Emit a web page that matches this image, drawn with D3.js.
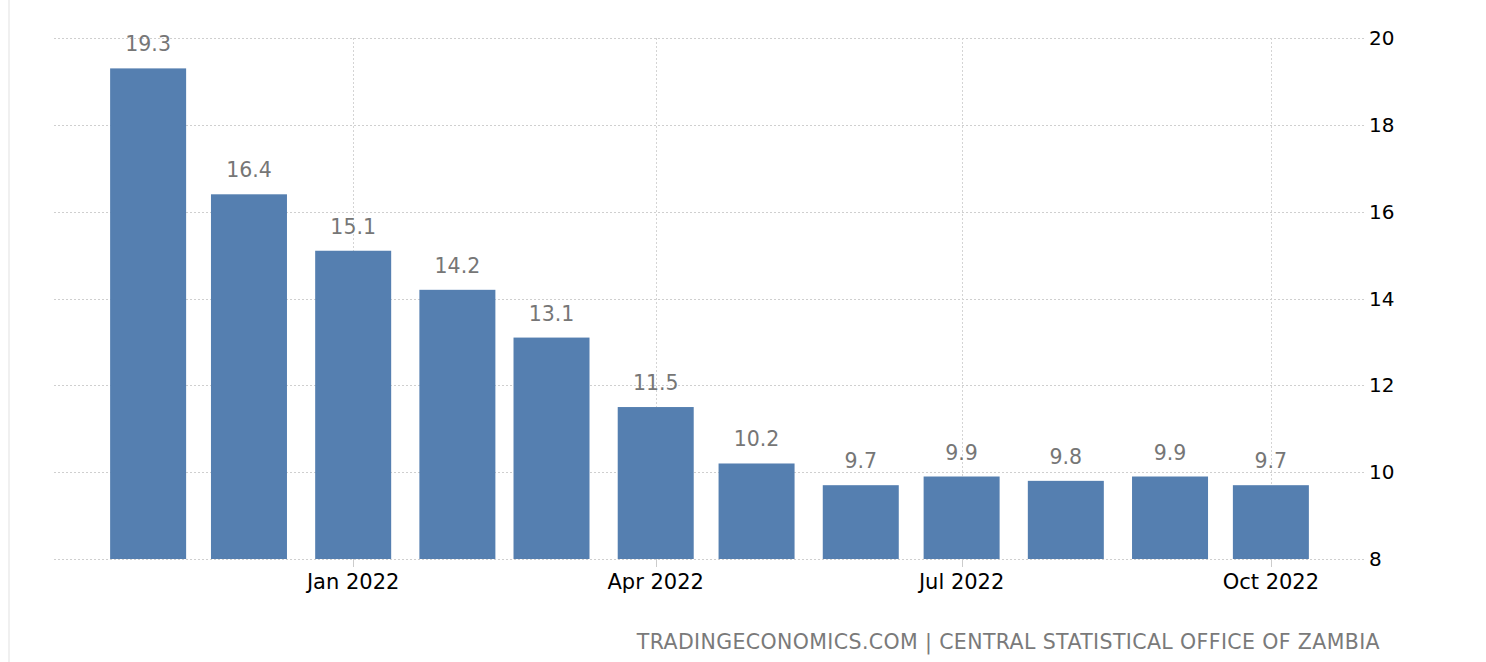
<!DOCTYPE html>
<html>
<head>
<meta charset="utf-8">
<script src="https://cdn.jsdelivr.net/npm/d3@7"></script>
<style>
html,body{margin:0;padding:0;background:#fff;}
svg{display:block;font-family:"DejaVu Sans",sans-serif;}
</style>
</head>
<body>
<svg id="chart" width="1486" height="662"></svg>
<script>
const months = ["2021-11","2021-12","2022-01","2022-02","2022-03","2022-04","2022-05","2022-06","2022-07","2022-08","2022-09","2022-10"];
const values = [19.3,16.4,15.1,14.2,13.1,11.5,10.2,9.7,9.9,9.8,9.9,9.7];
const yTicks = [8,10,12,14,16,18,20];
const xTickDates = ["2022-01","2022-04","2022-07","2022-10"];
const sourceText = "TRADINGECONOMICS.COM | CENTRAL STATISTICAL OFFICE OF ZAMBIA";

(function(){
const parse = d3.timeParse("%Y-%m");
const data = months.map((m,i)=>({date:parse(m), value:values[i]}));

const svg = d3.select("#chart");
const pL = 54, pR = 1365, pT = 38, pB = 559;

const x = d3.scaleTime()
  .domain([new Date(2021,9,4), new Date(2022,9,29)])
  .range([pL, pR]);
const y = d3.scaleLinear().domain([8,20]).range([pB, pT]);

// left border
svg.append("rect").attr("x",8).attr("y",0).attr("width",2).attr("height",662).attr("fill","#f0f0f0");

// horizontal grid
svg.append("g").selectAll("line").data(yTicks).join("line")
  .attr("x1",pL).attr("x2",pR)
  .attr("y1",d=>Math.round(y(d))+0.5).attr("y2",d=>Math.round(y(d))+0.5)
  .attr("stroke","#cfcfcf").attr("stroke-width",1).attr("stroke-dasharray","2,2");

// vertical grid
const xt = xTickDates.map(parse);
svg.append("g").selectAll("line").data(xt).join("line")
  .attr("x1",d=>Math.round(x(d))+0.5).attr("x2",d=>Math.round(x(d))+0.5)
  .attr("y1",pT).attr("y2",pB)
  .attr("stroke","#d4d4d4").attr("stroke-width",1).attr("stroke-dasharray","2,2");
// tick marks
svg.append("g").selectAll("line").data(xt).join("line")
  .attr("x1",d=>Math.round(x(d))+0.5).attr("x2",d=>Math.round(x(d))+0.5)
  .attr("y1",pB).attr("y2",pB+8)
  .attr("stroke","#cccccc").attr("stroke-width",1);

// bars
const bw = 76;
svg.append("g").selectAll("rect").data(data).join("rect")
  .attr("x",d=>x(d.date)-bw/2)
  .attr("y",d=>y(d.value))
  .attr("width",bw)
  .attr("height",d=>pB-y(d.value))
  .attr("fill","#557fb0");

// value labels
svg.append("g").selectAll("text").data(data).join("text")
  .attr("x",d=>x(d.date))
  .attr("y",d=>y(d.value)-17)
  .attr("text-anchor","middle")
  .attr("font-size","20.5px")
  .attr("fill","#767676")
  .text(d=>d3.format(".1f")(d.value));

// y labels
svg.append("g").selectAll("text").data(yTicks).join("text")
  .attr("x",1369)
  .attr("y",d=>y(d))
  .attr("dy","0.35em")
  .attr("font-size","20px")
  .attr("fill","#000")
  .text(d=>d);

// x labels
const fmt = d3.timeFormat("%b %Y");
svg.append("g").selectAll("text").data(xt).join("text")
  .attr("x",d=>x(d))
  .attr("y",589)
  .attr("text-anchor","middle")
  .attr("font-size","21px")
  .attr("fill","#000")
  .text(d=>fmt(d));

// source
svg.append("text")
  .attr("x",1380).attr("y",649)
  .attr("text-anchor","end")
  .attr("font-size","20.5px")
  .attr("letter-spacing","0.38px")
  .attr("fill","#7a7a7a")
  .text(sourceText);
})();
</script>
</body>
</html>
